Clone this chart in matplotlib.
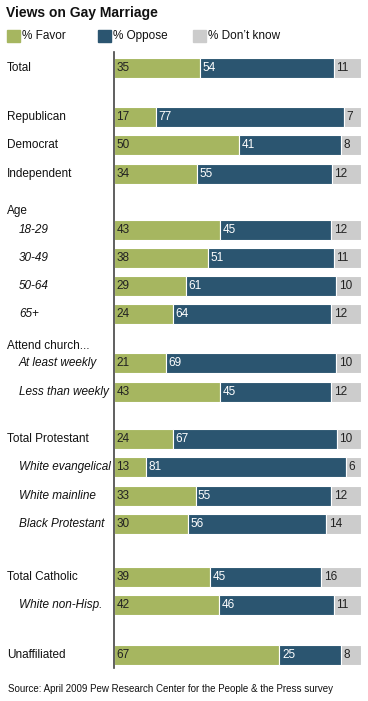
import matplotlib.pyplot as plt

plt.rcParams['font.family'] = ['Liberation Sans', 'DejaVu Sans']

# row labels, values
labels = ['Total', 'Republican', 'Democrat', 'Independent',
          '18-29', '30-49', '50-64', '65+',
          'At least weekly', 'Less than weekly',
          'Total Protestant', 'White evangelical', 'White mainline', 'Black Protestant',
          'Total Catholic', 'White non-Hisp.', 'Unaffiliated']
italic = [False, False, False, False,
          True, True, True, True,
          True, True,
          False, True, True, True,
          False, True, False]
favor = [35, 17, 50, 34, 43, 38, 29, 24, 21, 43, 24, 13, 33, 30, 39, 42, 67]
oppose = [54, 77, 41, 55, 45, 51, 61, 64, 69, 45, 67, 81, 55, 56, 45, 46, 25]
dontknow = [11, 7, 8, 12, 12, 11, 10, 12, 10, 12, 10, 6, 12, 14, 16, 11, 8]
headers = ['Age', 'Attend church...']

# layout (pixel rows)
W, H = 368, 701
row_y = [68, 117, 145, 174, 230, 258, 286, 314, 363, 392,
         439, 467, 496, 524, 577, 605, 655]
header_y = [211, 346]

GREEN = '#a6b660'
BLUE = '#2b5570'
GRAY = '#cccccc'
FS = 8.5

fig = plt.figure(figsize=(W / 100, H / 100), dpi=100)
ax = fig.add_axes([114 / W, 0, 247 / W, 1])
ax.set_xlim(0, 100)
ax.set_ylim(H, 0)
ax.axis('off')

# bars stretch to full width (rounded values don't always sum to 100)
tot = [f + o + d for f, o, d in zip(favor, oppose, dontknow)]
fw = [100 * f / t for f, t in zip(favor, tot)]
ow = [100 * o / t for o, t in zip(oppose, tot)]
dw = [100 * d / t for d, t in zip(dontknow, tot)]
left2 = [a + b for a, b in zip(fw, ow)]

bh = 20
ax.barh(row_y, fw, height=bh, color=GREEN, edgecolor='white', linewidth=0.8)
ax.barh(row_y, ow, left=fw, height=bh, color=BLUE, edgecolor='white', linewidth=0.8)
ax.barh(row_y, dw, left=left2, height=bh, color=GRAY, edgecolor='white', linewidth=0.8)

off = 1.0
for y, f, o, d, a, b in zip(row_y, favor, oppose, dontknow, fw, left2):
    ax.text(off, y, str(f), va='center', ha='left', fontsize=FS, color='#222222')
    ax.text(a + off, y, str(o), va='center', ha='left', fontsize=FS, color='white')
    ax.text(b + off, y, str(d), va='center', ha='left', fontsize=FS, color='#222222')

ax.plot([0, 0], [52, 668], color='#444444', lw=1.2, clip_on=False)


def fx(x):
    return x / W


def fy(y):
    return 1 - y / H


for lab, y, it in zip(labels, row_y, italic):
    fig.text(fx(19 if it else 7), fy(y), lab, va='center', ha='left', fontsize=FS,
             style='italic' if it else 'normal', color='#111111')
for h, y in zip(headers, header_y):
    fig.text(fx(7), fy(y), h, va='center', ha='left', fontsize=FS, color='#111111')

fig.text(fx(6), fy(13), 'Views on Gay Marriage', va='center', ha='left',
         fontsize=10, fontweight='bold', color='#111111')

legend_items = [('% Favor', GREEN, 7), ('% Oppose', BLUE, 98), ('% Don\u2019t know', GRAY, 193)]
for name, c, x in legend_items:
    fig.patches.append(plt.Rectangle((fx(x), fy(42)), 13 / W, 12 / H,
                                     transform=fig.transFigure, color=c))
    fig.text(fx(x + 15), fy(36), name, va='center', ha='left', fontsize=FS, color='#111111')

fig.text(fx(8), fy(689), 'Source: April 2009 Pew Research Center for the People & the Press survey',
         va='center', ha='left', fontsize=7, color='#111111')

fig.savefig('out.png', dpi=100)
